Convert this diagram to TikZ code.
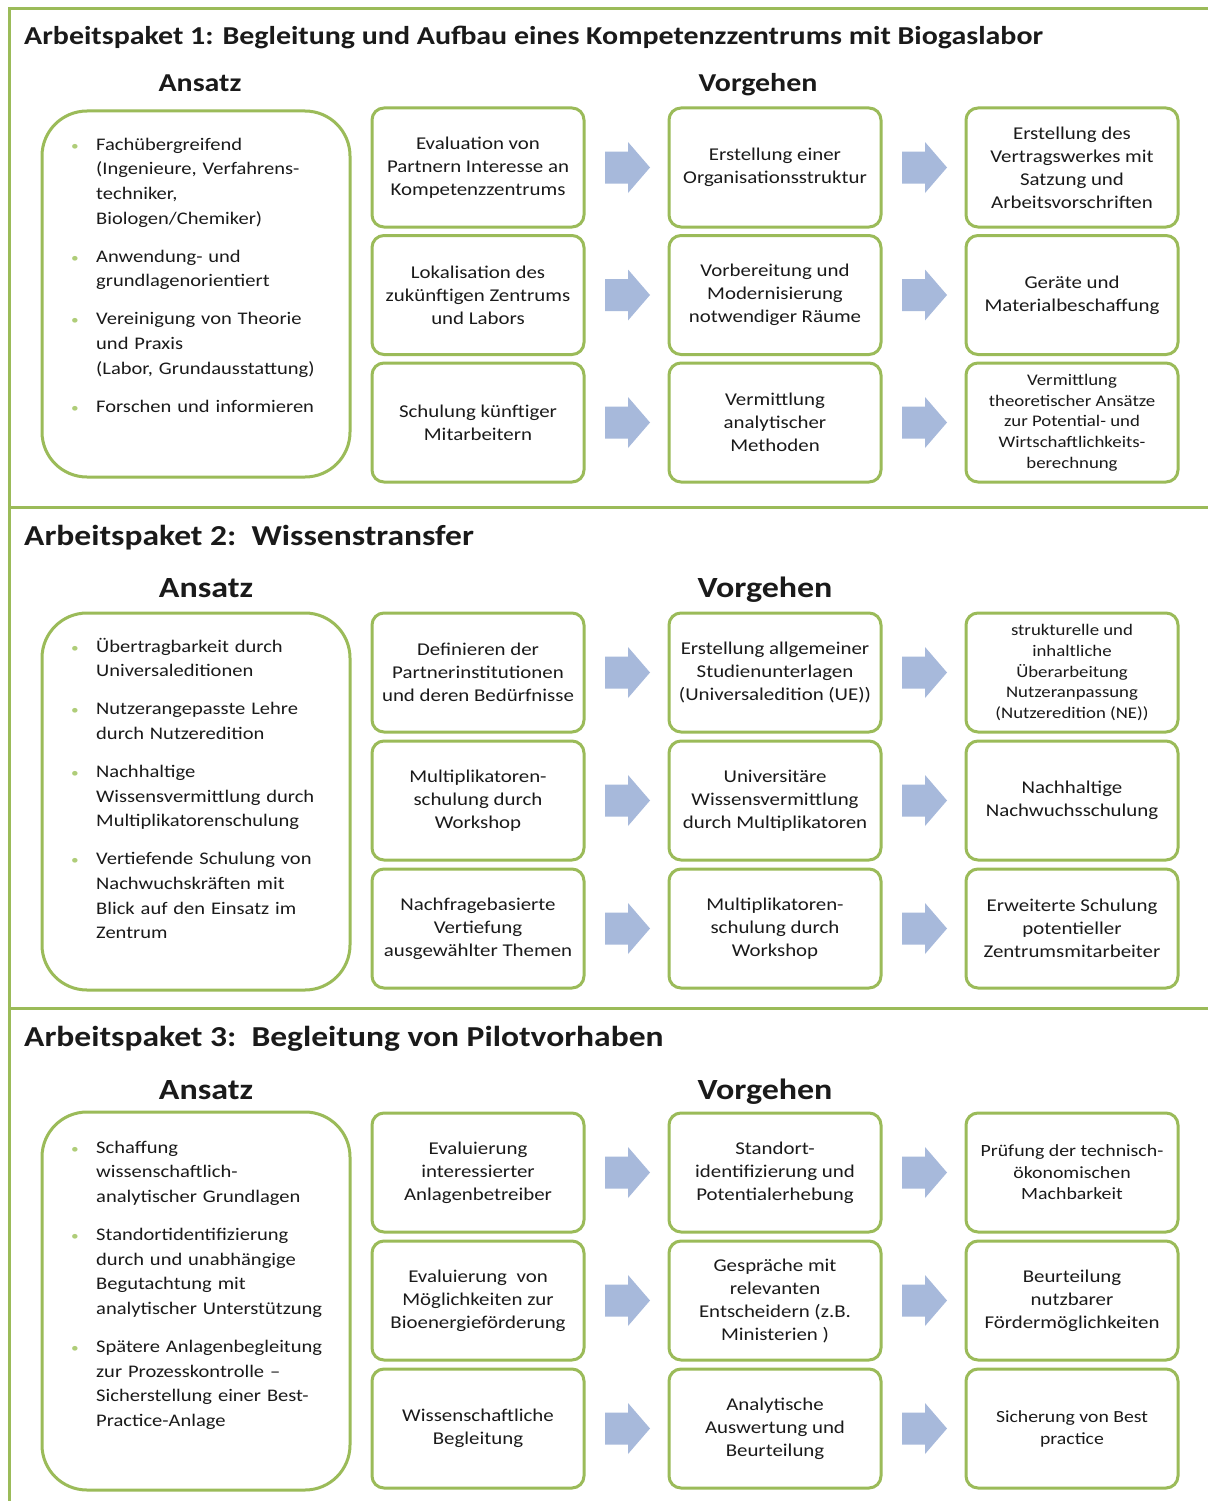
\documentclass[tikz,border=0pt]{standalone}
\usepackage{fontspec}
\setmainfont{Carlito}[FakeStretch=1.16]
\usetikzlibrary{calc}
\definecolor{grn}{RGB}{155,187,89}
\definecolor{arr}{RGB}{167,185,219}
\definecolor{txt}{RGB}{26,26,26}
\definecolor{bul}{RGB}{175,205,120}
\newcommand\bxfont{\fontsize{18}{23}\selectfont}
\newcommand\bxsfont{\fontsize{16.2}{20.7}\selectfont}
\newcommand\ansfont{\fontsize{17.7}{24.7}\selectfont}
\newcommand\aitem[1]{\hangindent=26pt\hangafter=1\noindent\makebox[26pt][l]{\hspace{1pt}\textcolor{bul}{\scalebox{0.75}{\textbullet}}}#1}
\newcommand\agap{\par\vspace{13.3pt}}
\newcommand\barrow[2]{\fill[arr] ($(#1.east)!0.5!(#2.west)+(-21.5,-16)$) -- ++(23,0) -- ++(0,-9.5) -- ++(22,25.5) -- ++(-22,25.5) -- ++(0,-9.5) -- ++(-23,0) -- cycle;}
\tikzset{
  bxs/.style={draw=grn, line width=3pt, rounded corners=12pt, minimum width=212pt, minimum height=119pt, align=center, font=\bxfont, text=txt, inner sep=2pt},
  smallbx/.style={bxs, font=\bxsfont},
  abox/.style={draw=grn, line width=3pt, rounded corners=45pt, minimum width=308pt},
  atext/.style={anchor=base west, text width=270pt, inner sep=0pt, align=left, font=\ansfont, text=txt},
  ttl/.style={anchor=base west, inner sep=0pt, font=\fontsize{25.8}{30}\bfseries\selectfont, text=txt},
  ttlb/.style={ttl, font=\fontsize{28.9}{33}\bfseries\selectfont},
  hdr/.style={anchor=base, inner sep=0pt, font=\fontsize{25.8}{30}\bfseries\selectfont, text=txt},
  hdrb/.style={hdr, font=\fontsize{29.3}{33}\bfseries\selectfont},
  frame/.style={draw=grn, line width=3pt}
}
\begin{document}
\begin{tikzpicture}[x=1pt,y=-1pt]
\useasboundingbox (0,0) rectangle (1208,1501);
\fill[white] (0,0) rectangle (1208,1501);
% frame
\draw[frame] (9,1501) -- (9,9) -- (1208,9);
\draw[frame] (9,507) -- (1208,507);
\draw[frame] (9,1008) -- (1208,1008);

% ---------- Section 1 ----------
\node[ttl] (t1) at (24,45) {Arbeitspaket 1: Begleitung und Aufbau eines Kompetenzzentrums mit Biogaslabor};
\node[hdr] (h1a) at (200,92) {Ansatz};
\node[hdr] (h1v) at (758,92) {Vorgehen};
\node[abox, minimum height=366pt] (s1a) at (196,294) {};
\node[atext] (s1at) at (70,150) {%
\aitem{Fachübergreifend\newline(Ingenieure, Verfahrens-\newline techniker,\newline Biologen/Chemiker)}\agap
\aitem{Anwendung- und\newline grundlagenorientiert}\agap
\aitem{Vereinigung von Theorie\newline und Praxis\newline (Labor, Grundausstattung)}\agap
\aitem{Forschen und informieren}\par};
\node[bxs] (s1r1c1) at (478,167.5) {Evaluation von\\Partnern Interesse an\\Kompetenzzentrums};
\node[bxs] (s1r1c2) at (775,167.5) {Erstellung einer\\Organisationsstruktur};
\node[bxs] (s1r1c3) at (1072,167.5) {Erstellung des\\Vertragswerkes mit\\Satzung und\\Arbeitsvorschriften};
\node[bxs] (s1r2c1) at (478,295) {Lokalisation des\\zukünftigen Zentrums\\und Labors};
\node[bxs] (s1r2c2) at (775,295) {Vorbereitung und\\Modernisierung\\notwendiger Räume};
\node[bxs] (s1r2c3) at (1072,295) {Geräte und\\Materialbeschaffung};
\node[bxs] (s1r3c1) at (478,422.5) {Schulung künftiger\\Mitarbeitern};
\node[bxs] (s1r3c2) at (775,422.5) {Vermittlung\\analytischer\\Methoden};
\node[smallbx] (s1r3c3) at (1072,422.5) {Vermittlung\\theoretischer Ansätze\\zur Potential- und\\Wirtschaftlichkeits-\\berechnung};
\barrow{s1r1c1}{s1r1c2}\barrow{s1r1c2}{s1r1c3}
\barrow{s1r2c1}{s1r2c2}\barrow{s1r2c2}{s1r2c3}
\barrow{s1r3c1}{s1r3c2}\barrow{s1r3c2}{s1r3c3}

% ---------- Section 2 ----------
\node[ttlb] (t2) at (24,545) {Arbeitspaket 2:\ \ Wissenstransfer};
\node[hdrb] (h2a) at (206,597) {Ansatz};
\node[hdrb] (h2v) at (765,597) {Vorgehen};
\node[abox, minimum height=377pt] (s2a) at (196,801.5) {};
\node[atext] (s2at) at (70,652) {%
\aitem{Übertragbarkeit durch\newline Universaleditionen}\agap
\aitem{Nutzerangepasste Lehre\newline durch Nutzeredition}\agap
\aitem{Nachhaltige\newline Wissensvermittlung durch\newline Multiplikatorenschulung}\agap
\aitem{Vertiefende Schulung von\newline Nachwuchskräften mit\newline Blick auf den Einsatz im\newline Zentrum}\par};
\node[bxs] (s2r1c1) at (478,672.5) {Definieren der\\Partnerinstitutionen\\und deren Bedürfnisse};
\node[bxs] (s2r1c2) at (775,672.5) {Erstellung allgemeiner\\Studienunterlagen\\(Universaledition (UE))};
\node[smallbx] (s2r1c3) at (1072,672.5) {strukturelle und\\inhaltliche\\Überarbeitung\\Nutzeranpassung\\(Nutzeredition (NE))};
\node[bxs] (s2r2c1) at (478,800.5) {Multiplikatoren-\\schulung durch\\Workshop};
\node[bxs] (s2r2c2) at (775,800.5) {Universitäre\\Wissensvermittlung\\durch Multiplikatoren};
\node[bxs] (s2r2c3) at (1072,800.5) {Nachhaltige\\Nachwuchsschulung};
\node[bxs] (s2r3c1) at (478,928.5) {Nachfragebasierte\\Vertiefung\\ausgewählter Themen};
\node[bxs] (s2r3c2) at (775,928.5) {Multiplikatoren-\\schulung durch\\Workshop};
\node[bxs] (s2r3c3) at (1072,928.5) {Erweiterte Schulung\\potentieller\\Zentrumsmitarbeiter};
\barrow{s2r1c1}{s2r1c2}\barrow{s2r1c2}{s2r1c3}
\barrow{s2r2c1}{s2r2c2}\barrow{s2r2c2}{s2r2c3}
\barrow{s2r3c1}{s2r3c2}\barrow{s2r3c2}{s2r3c3}

% ---------- Section 3 ----------
\node[ttlb] (t3) at (24,1046) {Arbeitspaket 3:\ \ Begleitung von Pilotvorhaben};
\node[hdrb] (h3a) at (206,1099) {Ansatz};
\node[hdrb] (h3v) at (765,1099) {Vorgehen};
\node[abox, minimum height=378pt] (s3a) at (196,1301) {};
\node[atext] (s3at) at (70,1153) {%
\aitem{Schaffung\newline wissenschaftlich-\newline analytischer Grundlagen}\agap
\aitem{Standortidentifizierung\newline durch und unabhängige\newline Begutachtung mit\newline analytischer Unterstützung}\agap
\aitem{Spätere Anlagenbegleitung\newline zur Prozesskontrolle –\newline Sicherstellung einer Best-\newline Practice-Anlage}\par};
\node[bxs] (s3r1c1) at (478,1172.5) {Evaluierung\\interessierter\\Anlagenbetreiber};
\node[bxs] (s3r1c2) at (775,1172.5) {Standort-\\identifizierung und\\Potentialerhebung};
\node[bxs, font=\fontsize{17.1}{21.5}\selectfont] (s3r1c3) at (1072,1172.5) {Prüfung der technisch-\\ökonomischen\\Machbarkeit};
\node[bxs] (s3r2c1) at (478,1300.5) {Evaluierung\ \ von\\Möglichkeiten zur\\Bioenergieförderung};
\node[bxs] (s3r2c2) at (775,1300.5) {Gespräche mit\\relevanten\\Entscheidern (z.B.\\Ministerien )};
\node[bxs] (s3r2c3) at (1072,1300.5) {Beurteilung\\nutzbarer\\Fördermöglichkeiten};
\node[bxs] (s3r3c1) at (478,1428.5) {Wissenschaftliche\\Begleitung};
\node[bxs] (s3r3c2) at (775,1428.5) {Analytische\\Auswertung und\\Beurteilung};
\node[bxs, font=\fontsize{17}{22}\selectfont] (s3r3c3) at (1072,1428.5) {Sicherung von Best\\practice};
\barrow{s3r1c1}{s3r1c2}\barrow{s3r1c2}{s3r1c3}
\barrow{s3r2c1}{s3r2c2}\barrow{s3r2c2}{s3r2c3}
\barrow{s3r3c1}{s3r3c2}\barrow{s3r3c2}{s3r3c3}
\end{tikzpicture}
\end{document}
